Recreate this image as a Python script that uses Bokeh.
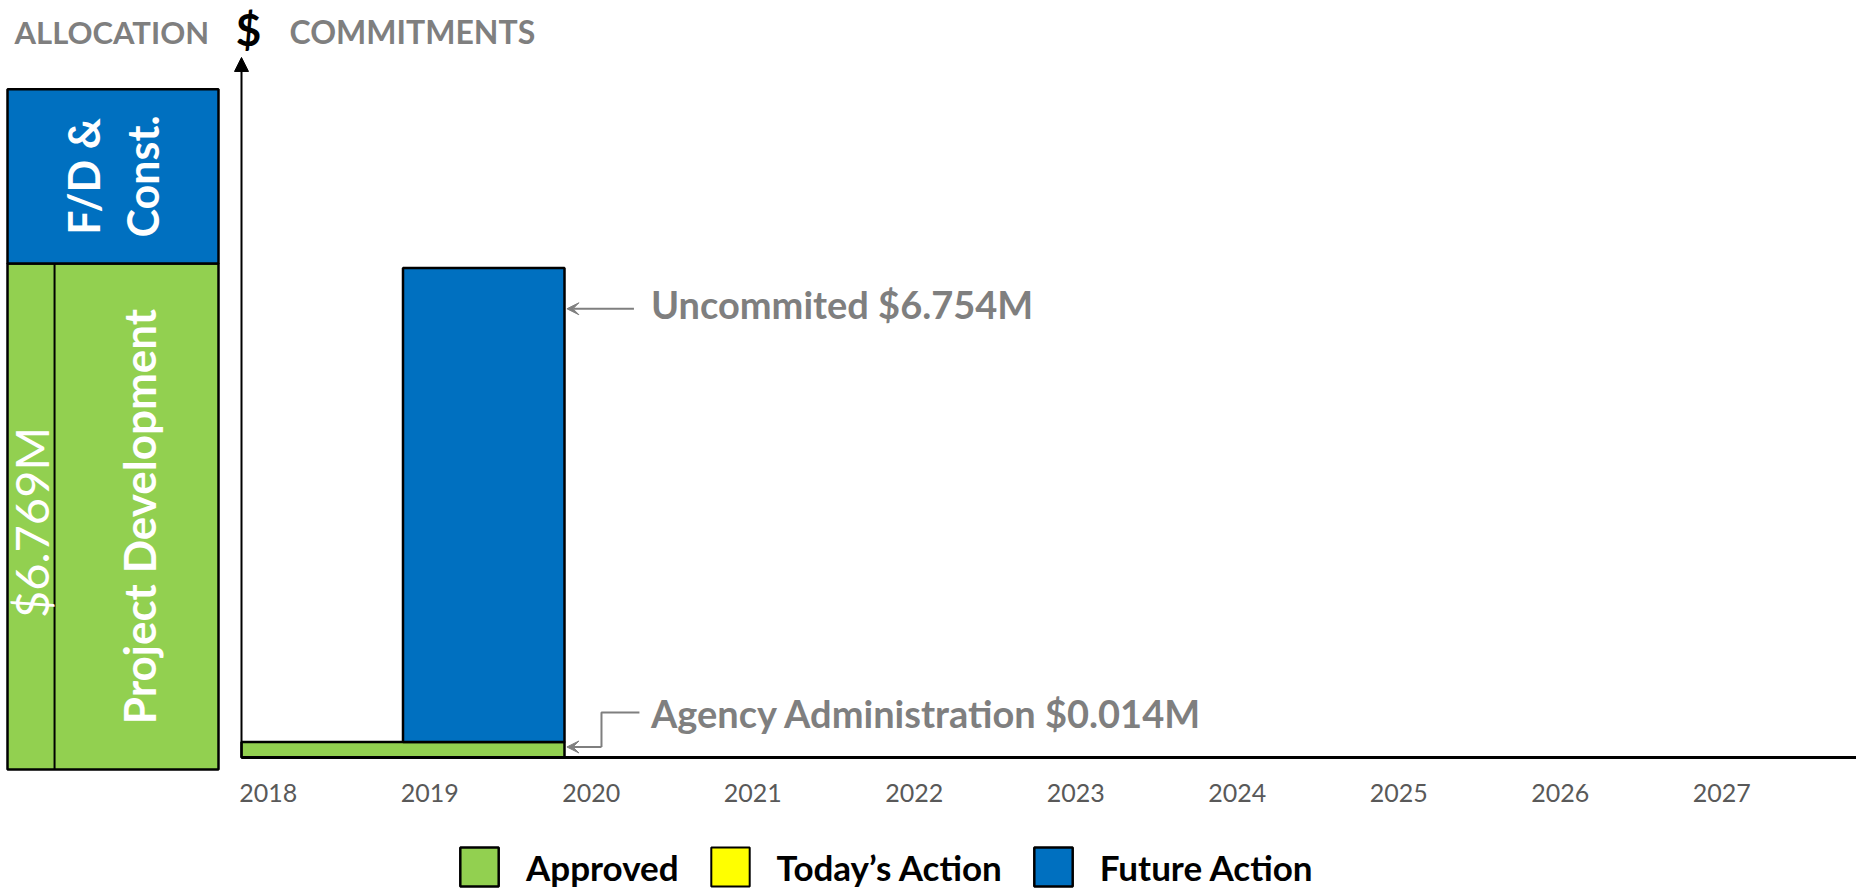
import math
from bokeh.plotting import figure
from bokeh.models import (Range1d, LinearAxis, FixedTicker, CustomJSTickFormatter, Arrow,
                          NormalHead, VeeHead, Label, Legend, LegendItem)
from bokeh.core.properties import value
from bokeh.embed import file_html
from bokeh.resources import INLINE

# ---------------- data ----------------
years = [2018, 2019, 2020, 2021, 2022, 2023, 2024, 2025, 2026, 2027]

# Approved (green): Agency Administration bar as drawn, and its thin continuation
approved_start = [2018]
approved_end = [2020]
approved_amount = [0.22]
approved_tail_start = [2020]
approved_tail_end = [2023]
approved_tail_amount = [0.014]

# Today's Action (yellow): nothing this time (a zero amount)
today_start = [2018]
today_end = [2018]
today_amount = [0.0]

# Future Action (blue): uncommitted funds
future_start = [2019]
future_end = [2020]
future_amount = [6.754]

uncommitted_m = 6.754
agency_admin_m = 0.014

# Allocation column
alloc_phases = ["Project Development", "F/D & Const."]
alloc_amounts = [6.769, 2.33]
alloc_total_label = "$6.769M"

GREEN = "#92D050"
BLUE = "#0070C0"
YELLOW = "#FFFF00"
GRAY = "#7F7F7F"

# ---------------- layout ----------------
W, H = 1856, 891
px_per_year = 161.5
x_origin_px = 241            # pixel of 2018 inside the canvas
x0 = years[0] - x_origin_px / px_per_year
x1 = x0 + W / px_per_year
px_per_m = 70.18
zero_px = 757                # pixel (from top) of $0
y1 = zero_px / px_per_m
y0 = y1 - H / px_per_m

p = figure(width=W, height=H, output_backend="svg", toolbar_location=None,
           x_axis_type=None, y_axis_type=None, min_border=0,
           x_range=Range1d(x0, x1), y_range=Range1d(y0, y1))
p.outline_line_color = None
p.background_fill_color = "white"

# allocation column ranges
ax_px = 211
ax_left = 7
ay_px = 74.75
ay_zero = 769
ax_start = -ax_left / ax_px
p.extra_x_ranges = {"ax": Range1d(ax_start, ax_start + W / ax_px)}
ay_start = -(H - ay_zero) / ay_px
p.extra_y_ranges = {"ay": Range1d(ay_start, ay_start + H / ay_px)}

# ---------------- allocation column ----------------
bottoms = [0.0]
for a in alloc_amounts[:-1]:
    bottoms.append(bottoms[-1] + a)
tops = [b + a for b, a in zip(bottoms, alloc_amounts)]
p.quad(left=0, right=1, bottom=bottoms, top=tops, fill_color=[GREEN, BLUE],
       line_color="black", line_width=2.5, x_range_name="ax", y_range_name="ay")
div_x = 0.223
p.segment(x0=[div_x], y0=[bottoms[0]], x1=[div_x], y1=[tops[0]], line_color="black",
          line_width=2, x_range_name="ax", y_range_name="ay")

mid_pd = (bottoms[0] + tops[0]) / 2
mid_fd = (bottoms[1] + tops[1]) / 2
p.text(x=[(div_x + 1) / 2 + 0.01], y=[mid_pd], text=[alloc_phases[0]], angle=math.pi / 2,
       text_font=value("Lato"), text_font_style="bold", text_font_size="44px",
       text_color="white", text_align="center", text_baseline="middle",
       x_range_name="ax", y_range_name="ay")
p.text(x=[div_x / 2], y=[mid_pd - 0.08], text=[alloc_total_label], angle=math.pi / 2,
       text_font=value("Lato"), text_font_style="normal", text_font_size="47px",
       text_color="white", text_align="center", text_baseline="middle",
       x_range_name="ax", y_range_name="ay")
fd_lines = ["F/D &", "Const."]
p.text(x=[0.36, 0.64], y=[mid_fd, mid_fd], text=fd_lines, angle=math.pi / 2,
       text_font=value("Lato"), text_font_style="bold", text_font_size="43px",
       text_color="white", text_align="center", text_baseline="middle",
       x_range_name="ax", y_range_name="ay")

# ---------------- commitments bars ----------------
p.quad(left=approved_tail_start, right=approved_tail_end, bottom=0, top=approved_tail_amount,
       fill_color=GREEN, line_color=None)
r_today = p.quad(left=today_start, right=today_end, bottom=0, top=today_amount,
                 fill_color=YELLOW, line_color="black", line_width=2)
r_appr = p.quad(left=approved_start, right=approved_end, bottom=0, top=approved_amount,
                fill_color=GREEN, line_color="black", line_width=2.5)
fut_bottom = [approved_amount[0]]
fut_top = [b + a for b, a in zip(fut_bottom, future_amount)]
r_fut = p.quad(left=future_start, right=future_end, bottom=fut_bottom, top=fut_top,
               fill_color=BLUE, line_color="black", line_width=2.5)

# ---------------- axes ----------------
label_shift = 0.165
xaxis = LinearAxis(fixed_location=0, bounds=(years[0], x1),
                   ticker=FixedTicker(ticks=[y + label_shift for y in years]),
                   formatter=CustomJSTickFormatter(args=dict(s=label_shift),
                                                   code="return Math.round(tick - s).toString()"),
                   major_tick_line_color=None, minor_tick_line_color=None,
                   major_tick_out=0, major_tick_in=0,
                   axis_line_color="black", axis_line_width=3,
                   major_label_text_font="Lato",
                   major_label_text_font_size="25px",
                   major_label_text_color="#595959",
                   major_label_standoff=26)
p.add_layout(xaxis, "below")

y_top = 9.975
p.add_layout(Arrow(end=NormalHead(size=14, fill_color="black", line_color="black"),
                   x_start=years[0], y_start=0, x_end=years[0], y_end=y_top,
                   line_color="black", line_width=2))

# ---------------- annotations ----------------
ya = fut_top[0] - 0.58
p.add_layout(Arrow(end=VeeHead(size=12, fill_color=GRAY, line_color=GRAY),
                   x_start=2020.43, y_start=ya, x_end=future_end[0] + 0.015, y_end=ya,
                   line_color=GRAY, line_width=2))
p.text(x=[2020.535], y=[ya + 0.07], text=[f"Uncommited ${uncommitted_m:.3f}M"],
       text_font=value("Lato"), text_font_style="bold", text_font_size="38px",
       text_color=GRAY, text_align="left", text_baseline="middle")

yt = 0.64
yb = 0.15
xe = 2020.229
p.line(x=[2020.464, xe, xe], y=[yt, yt, yb], line_color=GRAY, line_width=2)
p.add_layout(Arrow(end=VeeHead(size=12, fill_color=GRAY, line_color=GRAY),
                   x_start=xe, y_start=yb, x_end=approved_end[0] + 0.015, y_end=yb,
                   line_color=GRAY, line_width=2))
p.text(x=[2020.535], y=[yt], text=[f"Agency Administration ${agency_admin_m:.3f}M"],
       text_font=value("Lato"), text_font_style="bold", text_font_size="38px",
       text_color=GRAY, text_align="left", text_baseline="middle")

# ---------------- titles ----------------
p.add_layout(Label(x=14, y=H - 31, x_units="screen", y_units="screen", text="ALLOCATION",
                   text_font="Lato", text_font_style="bold",
                   text_font_size="31px", text_color=GRAY,
                   text_align="left", text_baseline="middle"))
p.add_layout(Label(x=248, y=H - 28, x_units="screen", y_units="screen", text="$",
                   text_font="Lato", text_font_style="bold",
                   text_font_size="44px", text_color="black",
                   text_align="center", text_baseline="middle"))
p.add_layout(Label(x=289, y=H - 31, x_units="screen", y_units="screen", text="COMMITMENTS",
                   text_font="Lato", text_font_style="bold",
                   text_font_size="32px", text_color=GRAY,
                   text_align="left", text_baseline="middle"))

# ---------------- legend ----------------
legend = Legend(items=[LegendItem(label="Approved", renderers=[r_appr]),
                       LegendItem(label="Today\u2019s Action", renderers=[r_today]),
                       LegendItem(label="Future Action", renderers=[r_fut])],
                orientation="horizontal", location=(455, 0),
                glyph_width=48, glyph_height=49, label_height=49,
                label_standoff=23, spacing=27,
                padding=0, margin=0, border_line_color=None, background_fill_alpha=0,
                label_text_font="Lato", label_text_font_style="bold",
                label_text_font_size="35px", label_text_color="black")
p.add_layout(legend, "center")

open("out.html", "w").write(file_html(p, INLINE))
